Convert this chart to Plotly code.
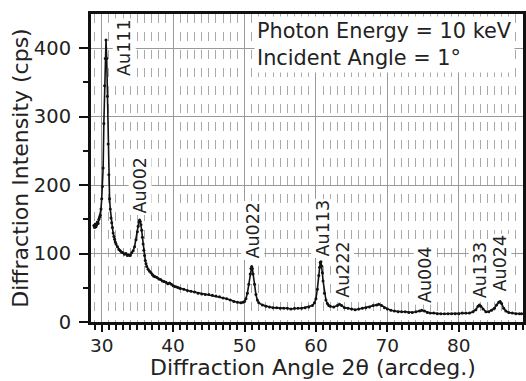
import plotly.graph_objects as go

angle = [28.9,29.0,29.1,29.2,29.3,29.4,29.5,29.6,29.7,29.8,29.9,30.0,30.1,30.2,30.3,30.4,30.5,30.6,30.7,30.8,30.9,
         31.0,31.1,31.2,31.3,31.4,31.5,31.6,31.7,31.8,31.9,32.0,32.2,32.4,32.6,32.8,33.0,33.2,33.4,33.6,33.8,34.0,
         34.2,34.4,34.6,34.8,35.0,35.1,35.2,35.3,35.4,35.5,35.6,35.7,35.8,35.9,36.0,36.1,36.2,36.3,36.5,36.7,36.9,
         37.1,37.3,37.5,37.75,38.0,38.25,38.5,38.75,39.0,39.25,39.5,39.75,40.0,40.25,40.5,40.75,41.0,41.5,42.0,
         42.5,43.0,43.5,44.0,44.5,45.0,45.5,46.0,46.5,47.0,47.5,48.0,48.5,49.0,49.5,49.8,50.0,50.2,50.4,50.6,50.8,
         50.9,51.0,51.1,51.2,51.4,51.6,51.8,52.0,52.5,53.0,53.5,54.0,54.5,55.0,55.5,56.0,56.5,57.0,57.5,58.0,58.5,
         59.0,59.5,59.8,60.0,60.2,60.4,60.5,60.6,60.7,60.8,60.9,61.0,61.2,61.4,61.6,61.8,62.0,62.5,63.0,63.3,63.6,
         64.0,64.5,65.0,65.5,66.0,66.5,67.0,67.5,68.0,68.5,68.8,69.2,69.6,70.0,70.5,71.0,71.5,72.0,72.5,73.0,73.5,
         74.0,74.5,74.8,75.2,75.6,76.0,76.5,77.0,77.5,78.0,78.5,79.0,79.5,80.0,80.5,81.0,81.5,82.0,82.4,82.7,82.9,
         83.1,83.4,83.8,84.2,84.6,85.0,85.3,85.6,85.8,86.0,86.3,86.6,87.0,87.5,88.0,88.5,88.8]
intensity = [141,138,143,139,142,146,144,150,153,156,165,180,198,225,290,345,385,412,385,330,260,
             215,180,165,152,145,138,130,125,121,117,114,110,106,104,102,101,99,100,97,98,97,
             101,104,110,120,132,140,146,149,147,142,134,124,114,105,97,90,85,81,77,74,72,
             69,67,66,65,63,62,60,59,58,56,57,55,53,52,51,50,49,48,46,
             45,44,42,41,40,40,39,38,37,35,34,32,30,29,28,29,30,34,42,55,70,
             78,81,78,70,55,40,32,28,25,23,22,21,21,20,20,20,19,20,20,20,21,
             22,24,28,34,48,68,80,87,88,82,72,60,42,32,27,24,23,22,24,26,24,
             21,20,19,18,19,20,21,22,24,25,26,24,21,19,17,16,15,15,15,14,14,
             15,16,17,16,14,13,13,12,12,12,12,12,12,12,13,13,13,15,18,23,25,
             23,19,15,15,17,20,25,29,30,27,20,16,14,13,12,12,12]

peak_names = ["Au111", "Au002", "Au022", "Au113", "Au222", "Au004", "Au133", "Au024"]
peak_x = [33.2, 35.4, 51.2, 61.0, 63.75, 75.3, 83.0, 85.8]
peak_y = [356, 156, 90, 93, 32, 25, 32, 42]

x_ticks = [30, 40, 50, 60, 70, 80]
y_ticks = [0, 100, 200, 300, 400]
info_lines = ["Photon Energy = 10 keV", "Incident Angle = 1°"]
x_title = "Diffraction Angle 2θ (arcdeg.)"
y_title = "Diffraction Intensity (cps)"

FONT = "DejaVu Sans"
TXT = "#222222"

fig = go.Figure()
fig.add_trace(go.Scatter(x=angle, y=intensity, mode="lines+markers",
                         line=dict(color="#111111", width=1.6),
                         marker=dict(color="#111111", size=3),
                         showlegend=False))

for name, px, py in zip(peak_names, peak_x, peak_y):
    fig.add_annotation(x=px, y=py, xref="x", yref="y", text=name, showarrow=False,
                       textangle=-90, yanchor="bottom", xanchor="center",
                       font=dict(family=FONT, size=17.5, color=TXT),
                       bgcolor="white", borderpad=1)

fig.add_annotation(x=87.9, y=447, xref="x", yref="y", text="<br>".join(info_lines),
                   showarrow=False, align="left", xanchor="right", yanchor="top",
                   font=dict(family=FONT, size=20.8, color=TXT),
                   bgcolor="white", borderpad=2)

fig.add_annotation(x=0.515, y=-0.1922, xref="paper", yref="paper", text=x_title,
                   showarrow=False, xanchor="center", yanchor="bottom", borderpad=0,
                   font=dict(family=FONT, size=22, color=TXT))

fig.update_layout(
    width=526, height=381,
    margin=dict(l=91, r=0, t=14, b=59),
    paper_bgcolor="white", plot_bgcolor="white",
    font=dict(family=FONT, color=TXT),
)
fig.update_xaxes(range=[28.5, 89], tickvals=x_ticks, ticks="outside", ticklen=7, tickwidth=1.5,
                 tickcolor="#111111", showline=True, linewidth=3, linecolor="#111111", mirror=True,
                 showgrid=True, gridcolor="#999999", gridwidth=1, zeroline=False,
                 tickfont=dict(family=FONT, size=18.5, color=TXT), ticklabelstandoff=-2,
                 minor=dict(dtick=1, ticks="outside", ticklen=5, tickwidth=1.5, tickcolor="#111111",
                            showgrid=True, gridcolor="#aaaaaa", griddash="dash", gridwidth=1))
fig.update_yaxes(range=[0, 450], tickvals=y_ticks, ticks="outside", ticklen=9, tickwidth=1.5,
                 tickcolor="#111111", showline=True, linewidth=3, linecolor="#111111", mirror=True,
                 showgrid=True, gridcolor="#999999", gridwidth=1, zeroline=False,
                 tickfont=dict(family=FONT, size=19.5, color=TXT), ticklabelstandoff=4,
                 title=dict(text=y_title, font=dict(family=FONT, size=22, color=TXT), standoff=0),
                 minor=dict(tickvals=[50, 150, 250, 350], ticks="outside", ticklen=5, tickwidth=1.5,
                            tickcolor="#111111", showgrid=False))

fig.write_html("out.html")
